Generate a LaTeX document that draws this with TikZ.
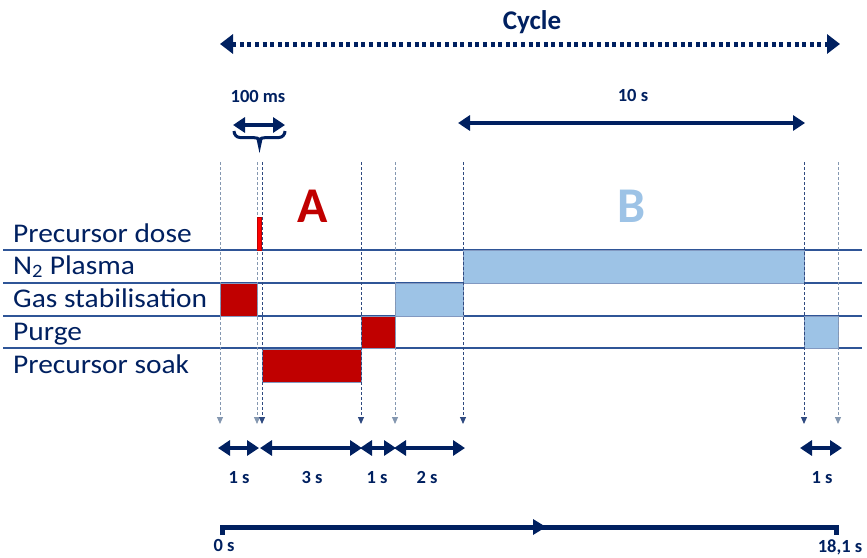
\documentclass[tikz,border=0pt]{standalone}
\usepackage{fontspec}
\setmainfont{Carlito}
\newfontfamily\rowfont[FakeStretch=1.09]{Carlito}
\usetikzlibrary{arrows.meta}
\definecolor{navy}{HTML}{002060}
\definecolor{darkred}{HTML}{C00000}
\definecolor{brightred}{HTML}{FF0000}
\definecolor{lightblue}{HTML}{9DC3E6}
\definecolor{rowcol}{HTML}{2F5597}
\definecolor{guidelight}{HTML}{8497B0}
\definecolor{guidedark}{HTML}{2F4A80}
\tikzset{
  rowlabel/.style={anchor=base west, font=\rowfont\fontsize{27}{32}\selectfont, text=navy, inner sep=0pt},
  dimlabel/.style={anchor=base, font=\bfseries\fontsize{18.5}{22}\selectfont, text=navy, inner sep=0pt},
  rowline/.style={draw=rowcol, line width=1.2pt},
  redbox/.style={fill=darkred, draw=rowcol!60, line width=0.6pt},
  bluebox/.style={fill=lightblue, draw=rowcol!60, line width=0.6pt},
  guide/.style={dash pattern=on 3pt off 2pt, line width=1pt, -{Triangle[length=7pt,width=6pt]}},
  dimarrow/.style={navy, line width=3.2pt, {Triangle[length=12pt,width=15pt]}-{Triangle[length=12pt,width=15pt]}},
}
\begin{document}
\begin{tikzpicture}[x=1pt,y=-1pt]
\useasboundingbox (0,0) rectangle (867,557);

% title and cycle arrow
\node[anchor=base, font=\bfseries\fontsize{27}{32}\selectfont, text=navy, inner sep=0pt] (cycle) at (532,29) {Cycle};
\coordinate (cycL) at (220,44);
\coordinate (cycR) at (840,44);
\draw[navy, line width=5pt, dash pattern=on 4pt off 3.6pt, {Triangle[length=13pt,width=19pt]}-{Triangle[length=13pt,width=19pt]}] (cycL) -- (cycR);

% 100 ms
\node[dimlabel] (ms) at (258,102) {100 ms};
\coordinate (msL) at (233,125);
\coordinate (msR) at (285,125);
\draw[dimarrow] (msL) -- (msR);
\draw[navy, line width=3pt] (234,131) to[out=-90,in=180] (240,137.5) -- (253,137.5) to[out=0,in=90] (259.5,141)
      to[out=90,in=180] (266,137.5) -- (279,137.5) to[out=0,in=-90] (285,131);
\fill[navy] (256.5,139) -- (262.5,139) -- (259.5,153) -- cycle;

% 10 s
\node[dimlabel] (ten) at (633,101) {10 s};
\coordinate (tenL) at (458,123);
\coordinate (tenR) at (805,123);
\draw[dimarrow] (tenL) -- (tenR);

% A / B
\node[anchor=base, font=\bfseries\fontsize{50}{56}\selectfont, text=darkred, inner sep=0pt] (A) at (313,222) {A};
\node[anchor=base, font=\bfseries\fontsize{50}{56}\selectfont, text=lightblue, inner sep=0pt] (B) at (632,222) {B};

% row lines
\foreach \yy in {250,283,316,348} \draw[rowline] (3,\yy) -- (862,\yy);

% row labels
\node[rowlabel] (l1) at (13,242) {Precursor dose};
\node[rowlabel] (l2) at (13,274) {N\textsubscript{2} Plasma};
\node[rowlabel] (l3) at (13,307) {Gas stabilisation};
\node[rowlabel] (l4) at (13,340) {Purge};
\node[rowlabel] (l5) at (13,373) {Precursor soak};

% boxes
\filldraw[redbox] (220,283) rectangle (257,316);
\filldraw[redbox] (361,316) rectangle (395,348);
\filldraw[redbox] (262,349) rectangle (361,382);
\filldraw[bluebox] (395,283) rectangle (463,316);
\filldraw[bluebox] (463,250) rectangle (804,283);
\filldraw[bluebox] (804,316) rectangle (838,348);

% guide lines
\foreach \xx/\cc in {220/guidelight,257/guidelight,262/guidedark,361/guidedark,395/guidelight,463/guidedark,804/guidedark,838/guidelight}
  \draw[guide, \cc] (\xx,162) -- (\xx,424);

% precursor dose pulse
\filldraw[fill=brightred, draw=darkred, line width=0.4pt] (257.5,217) rectangle (261,250);

% duration arrows
\coordinate (d0) at (218,448);
\coordinate (d1) at (259,448);
\coordinate (d2) at (260,448);
\coordinate (d3) at (362,448);
\coordinate (d4) at (360,448);
\coordinate (d5) at (396,448);
\coordinate (d6) at (394,448);
\coordinate (d7) at (465,448);
\coordinate (d8) at (800,448);
\coordinate (d9) at (842,448);
\draw[dimarrow] (d0) -- (d1);
\draw[dimarrow] (d2) -- (d3);
\draw[dimarrow] (d4) -- (d5);
\draw[dimarrow] (d6) -- (d7);
\draw[dimarrow] (d8) -- (d9);
\node[dimlabel] (s1) at (239,483) {1 s};
\node[dimlabel] (s2) at (312,483) {3 s};
\node[dimlabel] (s3) at (377,483) {1 s};
\node[dimlabel] (s4) at (427,483) {2 s};
\node[dimlabel] (s5) at (822,483) {1 s};

% timeline
\coordinate (t0) at (222,535);
\coordinate (t1) at (836,535);
\draw[navy, line width=5pt] (t0) -- (222,527) -- (836,527) -- (t1);
\fill[navy] (533,519) -- (546,527) -- (533,535) -- cycle;
\node[dimlabel] (z0) at (224,551) {0 s};
\node[dimlabel] (z1) at (840,552) {18,1 s};
\end{tikzpicture}
\end{document}
